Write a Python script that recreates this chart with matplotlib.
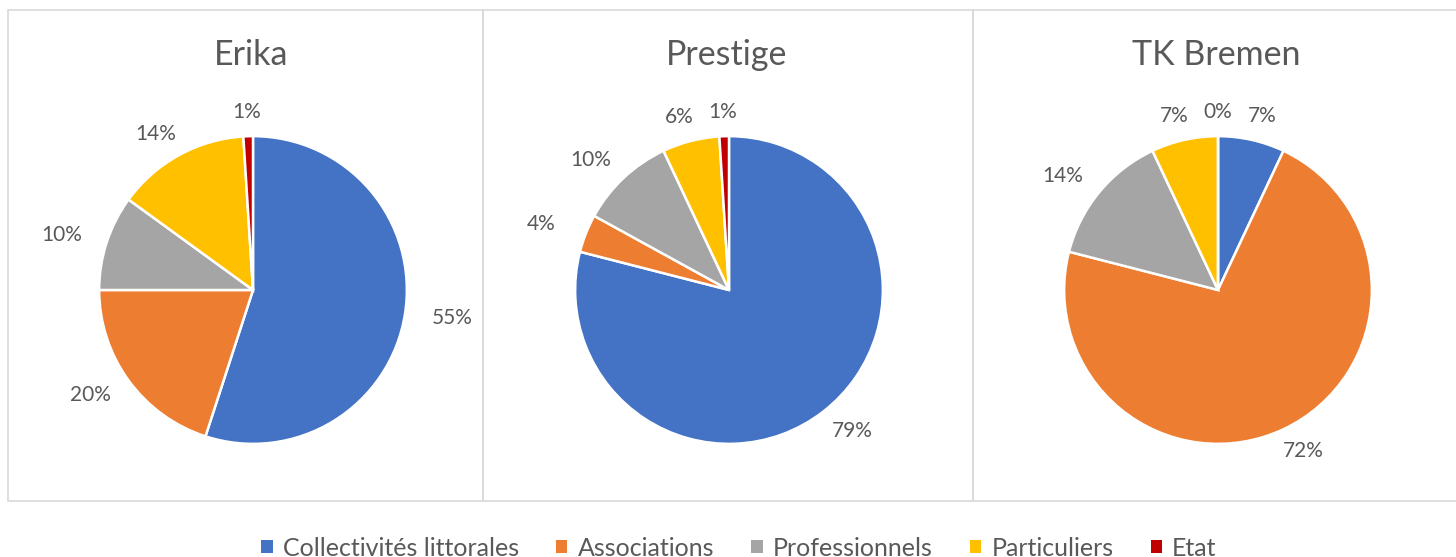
import matplotlib
matplotlib.use("Agg")
import matplotlib.pyplot as plt
from matplotlib.patches import Rectangle, Patch

plt.rcParams['font.family'] = ['Lato', 'DejaVu Sans']

categories = ["Collectivités littorales", "Associations", "Professionnels", "Particuliers", "Etat"]
colors = ["#4472C4", "#ED7D31", "#A5A5A5", "#FFC000", "#C00000"]
titles = ["Erika", "Prestige", "TK Bremen"]
erika = [55, 20, 10, 14, 1]
prestige = [79, 4, 10, 6, 1]
tk_bremen = [7, 72, 14, 7, 0.0]
series = [erika, prestige, tk_bremen]

W, H = 1456, 557
fig = plt.figure(figsize=(W / 100, H / 100), dpi=100)
text_color = "#595959"
border = "#D9D9D9"

panels = [(8, 483), (483, 973), (973, 1462)]
centers_x = [253, 729, 1218]
center_y = 290
half = 200  # px half-size of axes (radius 1 -> ~154 px)

for (x0, x1) in panels:
    fig.patches.append(Rectangle((x0 / W, 1 - 501 / H), (x1 - x0) / W, (501 - 10) / H,
                                 transform=fig.transFigure, fill=False,
                                 edgecolor=border, linewidth=1.2, zorder=0))

for cx, title, vals in zip(centers_x, titles, series):
    ax = fig.add_axes([(cx - half) / W, 1 - (center_y + half) / H, 2 * half / W, 2 * half / H])
    wedges, texts, autotexts = ax.pie(
        vals, colors=colors, startangle=90, counterclock=False, radius=1,
        autopct=lambda p: f"{p:.0f}%", pctdistance=1.0,
        wedgeprops=dict(edgecolor="white", linewidth=1.8),
        textprops=dict(color=text_color, fontsize=15))
    for t in autotexts:
        x, y = t.get_position()
        t.set_position((x * 1.31, y * 1.16))
        t.set_ha("center")
        t.set_va("center")
    ax.set_xlim(-1.3, 1.3)
    ax.set_ylim(-1.3, 1.3)
    ax.set_aspect("equal")
    ax.axis("off")
    fig.text(cx / W - 2 / W, 1 - 55 / H, title, ha="center", va="center",
             fontsize=24.5, color=text_color)

handles = [Patch(facecolor=c, edgecolor="none") for c in colors]
fig.legend(handles, categories, loc="center", bbox_to_anchor=(739 / W, 1 - 548 / H),
           ncol=5, frameon=False, fontsize=18, handlelength=0.45, handleheight=0.45,
           handletextpad=0.4, columnspacing=1.5, labelcolor=text_color)

fig.savefig("out.png", dpi=100)
